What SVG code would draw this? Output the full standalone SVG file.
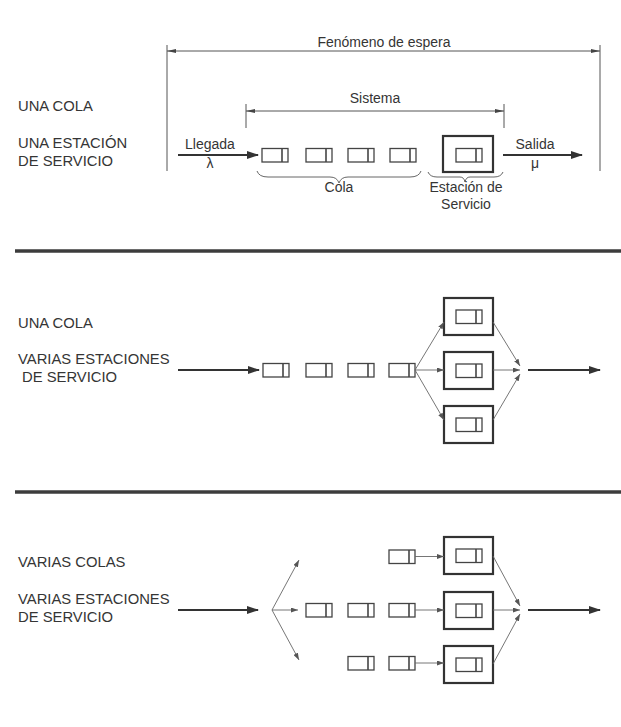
<svg xmlns="http://www.w3.org/2000/svg" xmlns:xlink="http://www.w3.org/1999/xlink" width="621" height="727" viewBox="0 0 621 727">
<style>
.lbl{font-family:"Liberation Sans",Arial,sans-serif;font-size:14.8px;fill:#353535}
.sm{font-family:"Liberation Sans",Arial,sans-serif;font-size:14px;fill:#353535;text-anchor:middle}
.main{stroke:#333;stroke-width:1.8;fill:none}
.thin{stroke:#666;stroke-width:0.9;fill:none}
.dim{stroke:#555;stroke-width:1;fill:none}
.box{stroke:#333;stroke-width:2.2;fill:#fff}
.sep{stroke:#3c3c3c;stroke-width:3.5}
.brace{stroke:#666;stroke-width:1;fill:none}
</style>
<defs>
<marker id="big" markerUnits="userSpaceOnUse" markerWidth="12" markerHeight="8" refX="11" refY="4" orient="auto">
<path d="M0,0 L12,4 L0,8 Z" fill="#333"/>
</marker>
<marker id="small" markerUnits="userSpaceOnUse" markerWidth="7" markerHeight="5" refX="7" refY="2.5" orient="auto">
<path d="M0,0 L7,2.5 L0,5 Z" fill="#555"/>
</marker>
<marker id="dimend" markerUnits="userSpaceOnUse" markerWidth="9" markerHeight="4" refX="9" refY="2" orient="auto">
<path d="M0,0 L9,2 L0,4 Z" fill="#444"/>
</marker>
<marker id="dimstart" markerUnits="userSpaceOnUse" markerWidth="9" markerHeight="4" refX="0" refY="2" orient="auto">
<path d="M9,0 L0,2 L9,4 Z" fill="#444"/>
</marker>
<g id="item">
<rect x="0" y="0" width="26" height="13.5" fill="#fff" stroke="#444" stroke-width="1.3"/>
<line x1="20" y1="0" x2="20" y2="13.5" stroke="#444" stroke-width="1.6"/>
</g>
</defs>
<rect width="621" height="727" fill="#fff"/>

<!-- Section 1 -->
<g id="labels1">
<text class="lbl" x="18" y="111">UNA COLA</text>
<text class="lbl" x="18" y="148">UNA ESTACIÓN</text>
<text class="lbl" x="18" y="166">DE SERVICIO</text>
</g>
<g id="fenomeno">
<text class="sm" x="384" y="47">Fenómeno de espera</text>
<line class="dim" x1="167" y1="45" x2="167" y2="171"/>
<line class="dim" x1="600" y1="45" x2="600" y2="171"/>
</g>
<g id="sistema">
<text class="sm" x="375" y="103">Sistema</text>
<line class="dim" x1="246" y1="104" x2="246" y2="128"/>
<line class="dim" x1="504" y1="104" x2="504" y2="128"/>
</g>
<g id="cola1">
<use xlink:href="#item" x="262" y="148.5"/>
<use xlink:href="#item" x="306" y="148.5"/>
<use xlink:href="#item" x="348" y="148.5"/>
<use xlink:href="#item" x="390" y="148.5"/>
<path class="brace" d="M257,171 Q259,177 268,177 L330,177 Q337,177 339,183 Q341,177 348,177 L410,177 Q419,177 421,171"/>
<text class="sm" x="339" y="192">Cola</text>
</g>
<g id="estacion1">
<rect class="box" x="443" y="136" width="50" height="36"/>
<use xlink:href="#item" x="456" y="148.5"/>
<path class="brace" d="M428,172 Q430,177 437,177 L460,177 Q464,177 465,182 Q466,177 470,177 L494,177 Q501,177 503,172"/>
<text class="sm" x="466" y="192">Estación de</text>
<text class="sm" x="466" y="209">Servicio</text>
</g>
<g id="llegada">
<text class="sm" x="210" y="149">Llegada</text>
<text class="sm" x="210" y="168">λ</text>
</g>
<g id="salida">
<text class="sm" x="535" y="149">Salida</text>
<text class="sm" x="535" y="168">μ</text>
</g>

<line class="sep" x1="15" y1="251" x2="621" y2="251"/>

<!-- Section 2 -->
<g id="labels2">
<text class="lbl" x="18" y="328">UNA COLA</text>
<text class="lbl" x="18" y="364">VARIAS ESTACIONES</text>
<text class="lbl" x="22" y="382">DE SERVICIO</text>
</g>
<g id="cola2">
<use xlink:href="#item" x="263" y="363.5"/>
<use xlink:href="#item" x="306" y="363.5"/>
<use xlink:href="#item" x="348" y="363.5"/>
<use xlink:href="#item" x="389" y="363.5"/>
</g>
<g id="est2a"><rect class="box" x="444" y="298" width="49" height="37"/><use xlink:href="#item" x="456" y="310"/></g>
<g id="est2b"><rect class="box" x="444" y="352" width="49" height="37"/><use xlink:href="#item" x="456" y="364"/></g>
<g id="est2c"><rect class="box" x="444" y="406" width="49" height="37"/><use xlink:href="#item" x="456" y="418"/></g>

<line class="sep" x1="15" y1="492" x2="621" y2="492"/>

<!-- Section 3 -->
<g id="labels3">
<text class="lbl" x="18" y="567">VARIAS COLAS</text>
<text class="lbl" x="18" y="604">VARIAS ESTACIONES</text>
<text class="lbl" x="18" y="622">DE SERVICIO</text>
</g>
<g id="cola3a"><use xlink:href="#item" x="389" y="550"/></g>
<g id="cola3b">
<use xlink:href="#item" x="306" y="603.5"/>
<use xlink:href="#item" x="348" y="603.5"/>
<use xlink:href="#item" x="389" y="603.5"/>
</g>
<g id="cola3c">
<use xlink:href="#item" x="348" y="656.5"/>
<use xlink:href="#item" x="389" y="656.5"/>
</g>
<g id="est3a"><rect class="box" x="444" y="537" width="49" height="37"/><use xlink:href="#item" x="456" y="549"/></g>
<g id="est3b"><rect class="box" x="444" y="592" width="49" height="37"/><use xlink:href="#item" x="456" y="604"/></g>
<g id="est3c"><rect class="box" x="444" y="646" width="49" height="37"/><use xlink:href="#item" x="456" y="658"/></g>

<g id="connectors">
<!-- section 1 -->
<line class="dim" x1="167" y1="51" x2="600" y2="51" marker-start="url(#dimstart)" marker-end="url(#dimend)"/>
<line class="dim" x1="246" y1="111" x2="504" y2="111" marker-start="url(#dimstart)" marker-end="url(#dimend)"/>
<line class="main" x1="178" y1="155" x2="258" y2="155" marker-end="url(#big)"/>
<line class="main" x1="503" y1="155" x2="582" y2="155" marker-end="url(#big)"/>
<!-- section 2 -->
<line class="main" x1="178" y1="370" x2="259" y2="370" marker-end="url(#big)"/>
<line class="thin" x1="415" y1="370" x2="444" y2="322" marker-end="url(#small)"/>
<line class="thin" x1="415" y1="370" x2="444" y2="370" marker-end="url(#small)"/>
<line class="thin" x1="415" y1="370" x2="444" y2="420" marker-end="url(#small)"/>
<line class="thin" x1="493" y1="322" x2="520" y2="366" marker-end="url(#small)"/>
<line class="thin" x1="493" y1="370" x2="520" y2="370" marker-end="url(#small)"/>
<line class="thin" x1="493" y1="420" x2="520" y2="374" marker-end="url(#small)"/>
<line class="main" x1="528" y1="370" x2="600" y2="370" marker-end="url(#big)"/>
<!-- section 3 -->
<line class="main" x1="178" y1="610" x2="258" y2="610" marker-end="url(#big)"/>
<line class="thin" x1="272" y1="610" x2="299" y2="560" marker-end="url(#small)"/>
<line class="thin" x1="272" y1="610" x2="298" y2="610" marker-end="url(#small)"/>
<line class="thin" x1="272" y1="610" x2="299" y2="660" marker-end="url(#small)"/>
<line class="thin" x1="415" y1="556.5" x2="444" y2="556.5" marker-end="url(#small)"/>
<line class="thin" x1="415" y1="610" x2="444" y2="610" marker-end="url(#small)"/>
<line class="thin" x1="415" y1="663" x2="444" y2="663" marker-end="url(#small)"/>
<line class="thin" x1="493" y1="556" x2="520" y2="606" marker-end="url(#small)"/>
<line class="thin" x1="493" y1="610" x2="520" y2="610" marker-end="url(#small)"/>
<line class="thin" x1="493" y1="664" x2="520" y2="614" marker-end="url(#small)"/>
<line class="main" x1="528" y1="610" x2="600" y2="610" marker-end="url(#big)"/>
</g>
</svg>
